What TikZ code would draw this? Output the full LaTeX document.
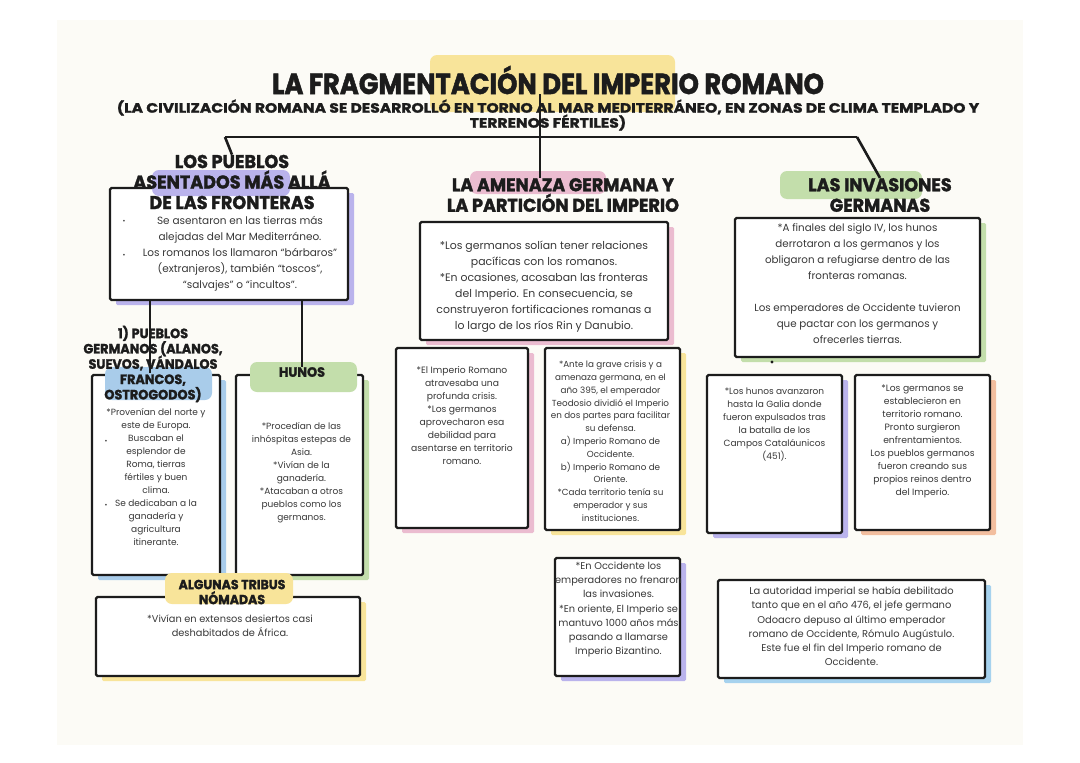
\documentclass[tikz,border=0pt]{standalone}
\usepackage{fontspec}
\setmainfont{Poppins}
\newfontfamily\headfont{Poppins}[FakeStretch=0.95,BoldFeatures={FakeBold=1.6}]
\newfontfamily\titlefont{Poppins}[FakeStretch=0.89,BoldFeatures={FakeBold=1.6}]
\newfontfamily\introfont{Poppins}[FakeStretch=1.15,BoldFeatures={FakeBold=1.6}]
\setlength{\lineskiplimit}{-10pt}
\usetikzlibrary{positioning,shadows}
\definecolor{Paper}{HTML}{FCFBF6}
\definecolor{Ink}{HTML}{1C1C1C}
\definecolor{TextGray}{HTML}{383838}
\definecolor{Lav}{HTML}{BAB3EC}
\definecolor{SkyBlue}{HTML}{A9CCEA}
\definecolor{Leaf}{HTML}{C3DEAB}
\definecolor{Rose}{HTML}{EBBCD0}
\definecolor{Butter}{HTML}{F8E49A}
\definecolor{Peach}{HTML}{F2BE9F}
\definecolor{Aqua}{HTML}{A6D2EE}

\begin{document}
\begin{tikzpicture}[x=1pt,y=-1pt,
  card/.style={draw=Ink,line width=2.4pt,fill=white,rounded corners=1.5pt,inner sep=0pt,
    drop shadow={fill=#1,opacity=1,shadow xshift=6pt,shadow yshift=-5pt}},
  body/.style={font=\fontsize{10.5}{16}\selectfont,align=center,text=TextGray,inner sep=0pt},
  small/.style={font=\fontsize{9}{13}\selectfont,align=center,text=TextGray,inner sep=0pt},
  head/.style={font=\headfont\bfseries\fontsize{18.5}{20.5}\selectfont,align=center,text=Ink,inner sep=0pt},
  subhead/.style={font=\headfont\bfseries\fontsize{13.5}{15.3}\selectfont,align=center,text=Ink,inner sep=0pt},
  dotmark/.style={font=\fontsize{7}{7}\selectfont,text=TextGray,inner sep=0pt},
  hl/.style={fill=#1,rounded corners=7pt},
  link/.style={draw=Ink,line width=2.6pt}
]
\useasboundingbox (0,0) rectangle (1080,763);
\fill[white] (0,0) rectangle (1080,763);
\fill[Paper] (57,20) rectangle (1023,745);

% cards
\node[card=Lav,minimum width=238,minimum height=112] (pueblos) at (229,244) {};
\node[card=SkyBlue,minimum width=128,minimum height=200] (germanos) at (156,475) {};
\node[card=Leaf,minimum width=127,minimum height=200] (hunos) at (299.5,475) {};
\node[card=Butter,minimum width=264,minimum height=79] (tribus) at (228,636.5) {};
\node[card=Rose,minimum width=248,minimum height=118] (amenaza) at (544,281) {};
\node[card=Rose,minimum width=132,minimum height=180] (crisis) at (462,438) {};
\node[card=Butter,minimum width=135,minimum height=182] (teodosio) at (612.5,439) {};
\node[card=Lav,minimum width=125,minimum height=118] (occidente) at (617.5,617) {};
\node[card=Leaf,minimum width=245,minimum height=139] (invasiones) at (857.5,287.5) {};
\node[card=Lav,minimum width=135,minimum height=158] (galia) at (774.5,454) {};
\node[card=Peach,minimum width=135,minimum height=155] (reinos) at (922.5,452.5) {};
\node[card=Aqua,minimum width=267,minimum height=98] (autoridad) at (851.5,629) {};

% highlights
\fill[hl=Butter] (430,55) rectangle (675,112);
\fill[hl=Lav] (152,170) rectangle (290,196);
\fill[hl=SkyBlue] (105,367) rectangle (212,400);
\fill[hl=Leaf] (250,362) rectangle (357,392);
\fill[hl=Butter] (165,573) rectangle (293,604);
\fill[hl=Rose] (470,171) rectangle (606,194);
\fill[hl=Leaf] (780,171) rectangle (922,199);

% titles
\node[font=\titlefont\bfseries\fontsize{29}{30}\selectfont,text=Ink,inner sep=0pt] (title) at (548,80)
  {LA FRAGMENTACIÓN DEL IMPERIO ROMANO};
\node[font=\introfont\bfseries\fontsize{13.5}{15}\selectfont,align=center,text=Ink,inner sep=0pt] (intro) at (548,115)
  {(LA CIVILIZACIÓN ROMANA SE DESARROLLÓ EN TORNO AL MAR MEDITERRÁNEO, EN ZONAS DE CLIMA TEMPLADO Y\\TERRENOS FÉRTILES)};

% headers
\node[head] (pueblosh) at (232,182) {LOS PUEBLOS\\ASENTADOS MÁS ALLÁ\\DE LAS FRONTERAS};
\node[head] (amenazah) at (563,195) {LA AMENAZA GERMANA Y\\LA PARTICIÓN DEL IMPERIO};
\node[head] (invasionesh) at (880,195) {LAS INVASIONES\\GERMANAS};
\node[subhead] (germanosh) at (153,364) {1) PUEBLOS\\GERMANOS (ALANOS,\\SUEVOS, VÁNDALOS\\FRANCOS,\\OSTROGODOS)};
\node[subhead] (hunosh) at (302,372) {HUNOS};
\node[subhead,font=\headfont\bfseries\fontsize{13.2}{15}\selectfont] (tribush) at (232,592) {ALGUNAS TRIBUS\\NÓMADAS};

% texts
\node[body,below=29pt of pueblos.north,xshift=11pt] (pueblost)
  {Se asentaron en las tierras más\\alejadas del Mar Mediterráneo.\\Los romanos los llamaron “bárbaros”\\(extranjeros), también “toscos”,\\“salvajes” o “incultos”.};
\node[dotmark] (pb1) at (124,222) {•};
\node[dotmark] (pb2) at (124,256) {•};
\node[small,below=34pt of germanos.north] (germanost)
  {*Provenían del norte y\\este de Europa.\\Buscaban el\\esplendor de\\Roma, tierras\\fértiles y buen\\clima.\\Se dedicaban a la\\ganadería y\\agricultura\\itinerante.};
\node[dotmark] (gb1) at (106,442) {•};
\node[dotmark] (gb2) at (106,506) {•};
\node[small,below=48pt of hunos.north,xshift=2pt] (hunost)
  {*Procedían de las\\inhóspitas estepas de\\Asia.\\*Vivían de la\\ganadería.\\*Atacaban a otros\\pueblos como los\\germanos.};
\node[small,font=\fontsize{9.8}{14}\selectfont,below=19pt of tribus.north,xshift=2pt] (tribust)
  {*Vivían en extensos desiertos casi\\deshabitados de África.};
\node[body,font=\fontsize{10.9}{16}\selectfont,below=20pt of amenaza.north] (amenazat)
  {*Los germanos solían tener relaciones\\pacíficas con los romanos.\\*En ocasiones, acosaban las fronteras\\del Imperio. En consecuencia, se\\construyeron fortificaciones romanas a\\lo largo de los ríos Rin y Danubio.};
\node[small,font=\fontsize{9.2}{13}\selectfont,below=19pt of crisis.north] (crisist)
  {*El Imperio Romano\\atravesaba una\\profunda crisis.\\*Los germanos\\aprovecharon esa\\debilidad para\\asentarse en territorio\\romano.};
\node[small,font=\fontsize{8.8}{12.8}\selectfont,below=14pt of teodosio.north,xshift=-2pt] (teodosiot)
  {*Ante la grave crisis y a\\amenaza germana, en el\\año 395, el emperador\\Teodosio dividió el Imperio\\en dos partes para facilitar\\su defensa.\\a) Imperio Romano de\\Occidente.\\b) Imperio Romano de\\Oriente.\\*Cada territorio tenía su\\emperador y sus\\instituciones.};
\node[small,font=\fontsize{9.8}{14.2}\selectfont,below=5pt of occidente.north,xshift=1pt] (occidentet)
  {*En Occidente los\\emperadores no frenaron\\las invasiones.\\*En oriente, El Imperio se\\mantuvo 1000 años más\\pasando a llamarse\\Imperio Bizantino.};
\node[body,font=\fontsize{10.3}{16}\selectfont,below=7pt of invasiones.north] (invasionest)
  {*A finales del siglo IV, los hunos\\derrotaron a los germanos y los\\obligaron a refugiarse dentro de las\\fronteras romanas.\\[16pt]Los emperadores de Occidente tuvieron\\que pactar con los germanos y\\ofrecerles tierras.};
\fill[Ink] (772,362) circle (1.6);
\node[small,below=14pt of galia.north] (galiat)
  {*Los hunos avanzaron\\hasta la Galia donde\\fueron expulsados tras\\la batalla de los\\Campos Cataláunicos\\(451).};
\node[small,font=\fontsize{9.2}{13}\selectfont,below=11pt of reinos.north] (reinost)
  {*Los germanos se\\establecieron en\\territorio romano.\\Pronto surgieron\\enfrentamientos.\\Los pueblos germanos\\fueron creando sus\\propios reinos dentro\\del Imperio.};
\node[small,font=\fontsize{9.9}{14.2}\selectfont,below=8pt of autoridad.north] (autoridadt)
  {La autoridad imperial se había debilitado\\tanto que en el año 476, el jefe germano\\Odoacro depuso al último emperador\\romano de Occidente, Rómulo Augústulo.\\Este fue el fin del Imperio romano de\\Occidente.};

% connectors
\coordinate (hub) at (540,137);
\coordinate (barL) at (225,137);
\coordinate (barR) at (857,137);
\coordinate (gline) at (150,373);
\draw[link] (title.south -| hub) -- (hub) -- (hub |- amenazah.north);
\draw[link] (barL) -- (barR);
\draw[link] (barL) -- (pueblosh.north);
\draw[link] (barR) -- (invasionesh.north);
\draw[link] (pueblos.south -| gline) -- (gline);
\draw[link] (pueblos.south -| hunosh) -- (hunosh.north);
\end{tikzpicture}
\end{document}
